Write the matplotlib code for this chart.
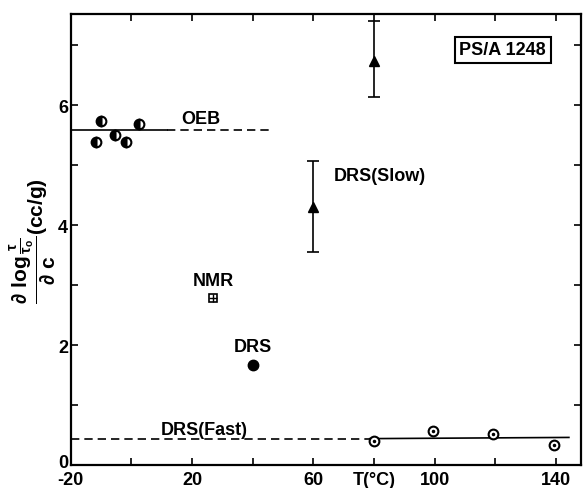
import matplotlib
matplotlib.use("Agg")
import matplotlib.pyplot as plt
import matplotlib.transforms as mtransforms
import numpy as np

plt.rcParams['font.family'] = ['Liberation Sans', 'DejaVu Sans']
plt.rcParams['font.weight'] = 'bold'
plt.rcParams['mathtext.fontset'] = 'custom'
plt.rcParams['mathtext.rm'] = 'Liberation Sans:bold'
plt.rcParams['mathtext.it'] = 'Liberation Sans:bold'
plt.rcParams['mathtext.bf'] = 'Liberation Sans:bold'

# OEB data
oeb_T = [-11.8, -9.9, -5.5, -1.9, 2.5]
oeb_v = [5.39, 5.73, 5.50, 5.39, 5.69]
oeb_level = 5.58

# DRS slow
slow_T = [60, 80]
slow_v = [4.30, 6.74]
slow_lo = [3.55, 6.13]
slow_hi = [5.07, 7.40]

# NMR
nmr_T = [26.9]
nmr_v = [2.78]

# DRS
drs_T = [40.1]
drs_v = [1.67]

# DRS fast
fast_T = [80, 99.5, 119.3, 139.4]
fast_v = [0.40, 0.56, 0.52, 0.34]
fast_level = 0.44

xticks = [-20, 0, 20, 40, 60, 80, 100, 120, 140]
xticklabels = ['-20', '', '20', '', '60', 'T(°C)', '100', '', '140']
yticks = [0, 1, 2, 3, 4, 5, 6, 7]
yticklabels = ['0', '', '2', '', '4', '', '6', '']

fig = plt.figure(figsize=(5.85, 4.89), dpi=100)
ax = fig.add_axes([0.1209, 0.047, 0.9932 - 0.1209, 0.9693 - 0.047])
ax.set_xlim(-20, 148.3)
ax.set_ylim(0, 7.52)

# OEB lines
ax.plot([-20, 11.7], [oeb_level, oeb_level], color='black', lw=1.2)
ax.plot([11.7, 46], [oeb_level, oeb_level], color='black', lw=1.2, ls=(0, (5, 3)))
ax.plot(oeb_T, oeb_v, ls='none', marker='o', ms=7, mfc='black', mec='black',
        fillstyle='left', mfcalt='white', mew=1.5)
ax.text(23, 5.78, 'OEB', fontsize=13, fontweight='bold', ha='center', va='center')

# DRS Fast lines
ax.plot([-20, 78.6], [fast_level - 0.01, fast_level - 0.01], color='black', lw=1.2, ls=(0, (5, 3)))
ax.plot([78.6, 144.3], [fast_level, fast_level + 0.02], color='black', lw=1.2)
ax.plot(fast_T, fast_v, ls='none', marker='o', ms=7, mfc='white', mec='black', mew=1.5)
ax.plot(fast_T, fast_v, ls='none', marker='o', ms=1.5, mfc='black', mec='black')
ax.text(24, 0.60, 'DRS(Fast)', fontsize=13, fontweight='bold', ha='center', va='center')

# DRS slow
yerr = [np.array(slow_v) - np.array(slow_lo), np.array(slow_hi) - np.array(slow_v)]
ax.errorbar(slow_T, slow_v, yerr=yerr, fmt='^', color='black', ms=7, capsize=4,
            elinewidth=1.2, capthick=1.2)
ax.text(82, 4.82, 'DRS(Slow)', fontsize=13, fontweight='bold', ha='center', va='center')

# NMR
ax.plot(nmr_T, nmr_v, ls='none', marker='s', ms=6, mfc='white', mec='black', mew=1.2)
ax.plot(nmr_T, nmr_v, ls='none', marker='+', ms=6, mec='black', mew=1.0)
ax.text(27, 3.07, 'NMR', fontsize=13, fontweight='bold', ha='center', va='center')

# DRS
ax.plot(drs_T, drs_v, ls='none', marker='o', ms=7.5, mfc='black', mec='black')
ax.text(40, 1.97, 'DRS', fontsize=13, fontweight='bold', ha='center', va='center')

# Box label
ax.text(122.5, 6.92, 'PS/A 1248', fontsize=13, fontweight='bold', ha='center', va='center',
        bbox=dict(boxstyle='square,pad=0.25', fc='white', ec='black', lw=1.5))

ax.set_xticks(xticks)
ax.set_xticklabels(xticklabels, fontsize=13, fontweight='bold')
ax.set_yticks(yticks)
ax.set_yticklabels(yticklabels, fontsize=13, fontweight='bold')
ax.tick_params(direction='in', length=5, width=1.2, top=True, right=True, pad=2)
ax.tick_params(axis='x', pad=4)

# shift the "0" y tick label up a little so it doesn't clash with "-20"
ylab0 = ax.get_yticklabels()[0]
ylab0.set_transform(ylab0.get_transform() +
                    mtransforms.ScaledTranslation(0, 5 / 100, fig.dpi_scale_trans))

for s in ax.spines.values():
    s.set_linewidth(1.6)

ax.set_ylabel(r'$\dfrac{\partial\ \log\frac{\tau}{\tau_o}}{\partial\ c}$(cc/g)', fontsize=15,
              fontweight='bold', labelpad=0)

fig.savefig('out.png', dpi=100)
